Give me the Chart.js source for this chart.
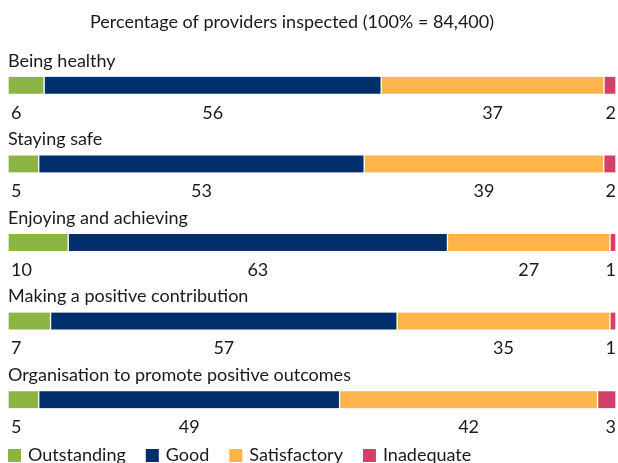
<!DOCTYPE html>
<html>
<head>
<meta charset="utf-8">
<script src="https://cdn.jsdelivr.net/npm/chart.js@4"></script>
<style>
  body { margin: 0; background: #fff; }
  #wrap { width: 618px; height: 463px; }
</style>
</head>
<body>
<div id="wrap"><canvas id="c"></canvas></div>
<script>
// data
var categories = ['Being healthy', 'Staying safe', 'Enjoying and achieving',
  'Making a positive contribution', 'Organisation to promote positive outcomes'];
var ratings = ['Outstanding', 'Good', 'Satisfactory', 'Inadequate'];
var outstanding = [6, 5, 10, 7, 5];
var good = [56, 53, 63, 57, 49];
var satisfactory = [37, 39, 27, 35, 42];
var inadequate = [2, 2, 1, 1, 3];
var colours = ['#8bb443', '#002f6c', '#fdb54b', '#d5406b'];
var title = 'Percentage of providers inspected (100% = 84,400)';

var FONT = 'Lato, "Open Sans", sans-serif';
var series = [outstanding, good, satisfactory, inadequate];

// each row fills the full width (values are rounded so rows sum to 99-101)
var rowSums = categories.map(function (c, i) {
  return series.reduce(function (s, arr) { return s + arr[i]; }, 0);
});

var datasets = [];
for (var d = 0; d < ratings.length; d++) {
  datasets.push({
    label: ratings[d],
    data: series[d].map(function (v, i) { return v / rowSums[i] * 100; }),
    raw: series[d],
    backgroundColor: colours[d],
    borderColor: '#fff',
    borderWidth: { left: 1, right: 1, top: 0, bottom: 0 },
    borderSkipped: false,
    barThickness: 17
  });
}

var textPlugin = {
  id: 'rowText',
  afterDraw: function (chart) {
    var ctx = chart.ctx;
    var area = chart.chartArea;
    ctx.save();
    ctx.fillStyle = '#1a1a1a';
    ctx.textBaseline = 'middle';

    // title
    ctx.font = '18px ' + FONT;
    ctx.textAlign = 'center';
    ctx.fillText(title, 292, 22);

    for (var i = 0; i < categories.length; i++) {
      var first = chart.getDatasetMeta(0).data[i];
      var top = first.y - first.height / 2;
      var bottom = first.y + first.height / 2;
      ctx.textAlign = 'left';
      ctx.fillText(categories[i], area.left, top - 16);

      for (var d = 0; d < datasets.length; d++) {
        var el = chart.getDatasetMeta(d).data[i];
        var txt = String(datasets[d].raw[i]);
        var ty = bottom + 19;
        if (d === 0) {
          ctx.textAlign = 'left';
          ctx.fillText(txt, area.left + 3, ty);
        } else if (d === datasets.length - 1) {
          ctx.textAlign = 'right';
          ctx.fillText(txt, area.right, ty);
        } else {
          ctx.textAlign = 'center';
          ctx.fillText(txt, (el.x + el.base) / 2, ty);
        }
      }
    }

    // legend
    var lx = area.left;
    var ly = 455;
    ctx.textAlign = 'left';
    for (var k = 0; k < datasets.length; k++) {
      ctx.fillStyle = datasets[k].backgroundColor;
      ctx.fillRect(lx, ly - 6, 13, 13);
      ctx.fillStyle = '#1a1a1a';
      ctx.fillText(datasets[k].label, lx + 20, ly);
      lx += 20 + ctx.measureText(datasets[k].label).width + 20;
    }
    ctx.restore();
  }
};

new Chart(document.getElementById('c'), {
  type: 'bar',
  data: { labels: categories, datasets: datasets },
  options: {
    indexAxis: 'y',
    responsive: true,
    maintainAspectRatio: false,
    animation: false,
    layout: { padding: { left: 8, right: 2, top: 46, bottom: 24 } },
    scales: {
      x: { stacked: true, min: 0, max: 100, display: false },
      y: { stacked: true, display: false }
    },
    plugins: {
      legend: { display: false },
      tooltip: { enabled: false }
    }
  },
  plugins: [textPlugin]
});
</script>
</body>
</html>
